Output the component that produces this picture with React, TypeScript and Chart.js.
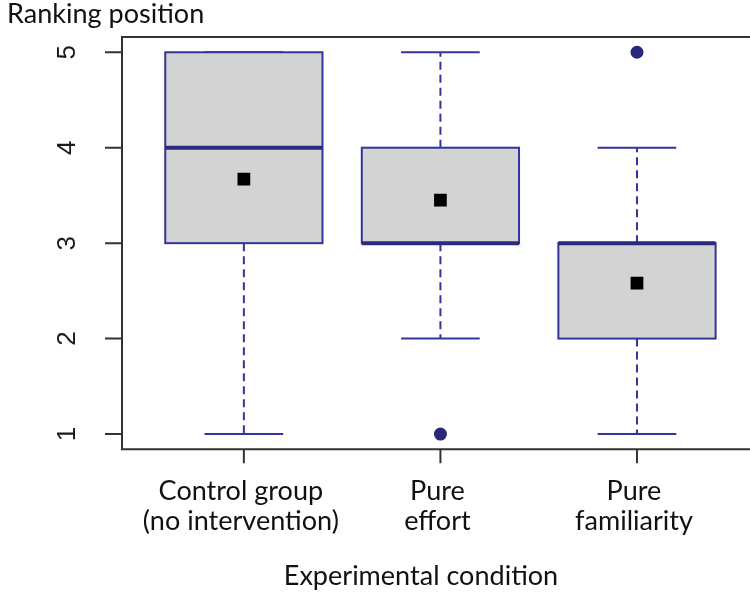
import { useEffect, useRef } from 'react';
import { Chart, registerables } from 'chart.js';

Chart.register(...registerables);

// ---- data ----
const categoryLines: string[][] = [
  ['Control group', '(no intervention)'],
  ['Pure', 'effort'],
  ['Pure', 'familiarity'],
];
const positions = [1, 2, 3];
const whiskerLow = [1, 2, 1];
const q1 = [3, 3, 2];
const median = [4, 3, 3];
const q3 = [5, 4, 3];
const whiskerHigh = [5, 5, 4];
const means = [3.67, 3.45, 2.58];
const outlierPos = [2, 3];
const outlierVal = [1, 5];
const yTicks = [1, 2, 3, 4, 5];
const yTitle = 'Ranking position';
const xTitle = 'Experimental condition';

const BOX_STROKE = '#34349a';
const MEDIAN_COLOR = '#2a2a80';
const BOX_FILL = '#d3d3d3';
const FRAME = '#333333';
const TEXT_FONT = 'Lato, "Open Sans", sans-serif';

const boxPlugin = {
  id: 'boxDraw',
  beforeDatasetsDraw(chart: any) {
    const { ctx } = chart;
    const xs = chart.scales.x;
    const ys = chart.scales.y;
    ctx.save();
    positions.forEach((p, i) => {
      const cx = xs.getPixelForValue(p);
      const half = xs.getPixelForValue(p + 0.4) - cx;
      const capHalf = half / 2;
      const yQ1 = ys.getPixelForValue(q1[i]);
      const yQ3 = ys.getPixelForValue(q3[i]);
      const yMed = ys.getPixelForValue(median[i]);
      const yLo = ys.getPixelForValue(whiskerLow[i]);
      const yHi = ys.getPixelForValue(whiskerHigh[i]);
      ctx.strokeStyle = BOX_STROKE;
      ctx.lineWidth = 2;
      // dashed whiskers
      ctx.setLineDash([8, 5]);
      if (whiskerHigh[i] > q3[i]) {
        ctx.beginPath();
        ctx.moveTo(cx, yQ3);
        ctx.lineTo(cx, yHi);
        ctx.stroke();
      }
      if (whiskerLow[i] < q1[i]) {
        ctx.beginPath();
        ctx.moveTo(cx, yQ1);
        ctx.lineTo(cx, yLo);
        ctx.stroke();
      }
      ctx.setLineDash([]);
      // caps
      ctx.beginPath();
      ctx.moveTo(cx - capHalf, yHi);
      ctx.lineTo(cx + capHalf, yHi);
      ctx.moveTo(cx - capHalf, yLo);
      ctx.lineTo(cx + capHalf, yLo);
      ctx.stroke();
      // box
      ctx.fillStyle = BOX_FILL;
      ctx.fillRect(cx - half, yQ3, half * 2, yQ1 - yQ3);
      ctx.strokeRect(cx - half, yQ3, half * 2, yQ1 - yQ3);
      // median
      ctx.strokeStyle = MEDIAN_COLOR;
      ctx.lineWidth = 4;
      ctx.beginPath();
      ctx.moveTo(cx - half, yMed);
      ctx.lineTo(cx + half, yMed);
      ctx.stroke();
    });
    ctx.restore();
  },
  afterDraw(chart: any) {
    const { ctx, chartArea } = chart;
    const xs = chart.scales.x;
    const ys = chart.scales.y;
    const { left, top, right, bottom } = chartArea;
    ctx.save();
    // frame
    ctx.strokeStyle = FRAME;
    ctx.lineWidth = 2;
    ctx.beginPath();
    ctx.moveTo(right + 2, top);
    ctx.lineTo(left, top);
    ctx.lineTo(left, bottom);
    ctx.lineTo(right + 2, bottom);
    ctx.stroke();
    // ticks
    ctx.beginPath();
    yTicks.forEach((t) => {
      const y = ys.getPixelForValue(t);
      ctx.moveTo(left - 17, y);
      ctx.lineTo(left, y);
    });
    positions.forEach((p) => {
      const x = xs.getPixelForValue(p);
      ctx.moveTo(x, bottom);
      ctx.lineTo(x, bottom + 14);
    });
    ctx.stroke();
    // y tick labels (rotated)
    ctx.fillStyle = '#1a1a1a';
    ctx.font = '26px "Liberation Sans", Arial, sans-serif';
    ctx.textAlign = 'center';
    ctx.textBaseline = 'middle';
    yTicks.forEach((t) => {
      const y = ys.getPixelForValue(t);
      ctx.save();
      ctx.translate(left - 55, y);
      ctx.rotate(-Math.PI / 2);
      ctx.fillText(String(t), 0, 1);
      ctx.restore();
    });
    // text size fitted to reference widths
    const targets: [string, number][] = [
      ['Control group', 164],
      ['(no intervention)', 200],
      ['effort', 67],
      ['familiarity', 110],
      [xTitle, 278],
      [yTitle, 198],
    ];
    ctx.font = `100px ${TEXT_FONT}`;
    let sumT = 0;
    let sumM = 0;
    targets.forEach(([s, w]) => {
      sumT += w;
      sumM += ctx.measureText(s).width;
    });
    const size = (100 * sumT) / sumM;
    ctx.font = `${size}px ${TEXT_FONT}`;
    ctx.fillStyle = '#111';
    ctx.textBaseline = 'alphabetic';
    ctx.textAlign = 'center';
    categoryLines.forEach((lines, i) => {
      const x = xs.getPixelForValue(positions[i]) - 3;
      lines.forEach((ln, j) => {
        ctx.fillText(ln, x, bottom + 51 + j * 30);
      });
    });
    ctx.fillText(xTitle, 421, bottom + 136);
    ctx.textAlign = 'left';
    ctx.fillText(yTitle, 7, 23);
    ctx.restore();
  },
};

export default function App() {
  const ref = useRef<HTMLCanvasElement>(null);
  useEffect(() => {
    if (!ref.current) return;
    const chart = new Chart(ref.current, {
      type: 'scatter',
      data: {
        datasets: [
          {
            label: 'mean',
            data: positions.map((p, i) => ({ x: p, y: means[i] })),
            pointStyle: 'rect',
            pointRadius: 9,
            pointBackgroundColor: '#000',
            pointBorderWidth: 0,
            borderColor: '#000',
          },
          {
            label: 'outliers',
            data: outlierPos.map((p, i) => ({ x: p, y: outlierVal[i] })),
            pointStyle: 'circle',
            pointRadius: 6.5,
            pointBackgroundColor: '#28287a',
            pointBorderWidth: 0,
            borderColor: '#28287a',
          },
        ],
      },
      options: {
        responsive: false,
        animation: false,
        devicePixelRatio: 1,
        layout: { autoPadding: false, padding: { left: 122, top: 37, right: 0, bottom: 143.7 } },
        plugins: {
          legend: { display: false },
          tooltip: { enabled: false },
          title: { display: false },
        },
        scales: {
          x: { type: 'linear', min: 0.38, max: 3.575, display: false },
          y: { type: 'linear', min: 0.84, max: 5.16, display: false },
        },
      },
      plugins: [boxPlugin],
    });
    return () => chart.destroy();
  }, []);
  return (
    <div style={{ position: 'fixed', left: 0, top: 0, width: 750, height: 593, background: '#fff' }}>
      <canvas ref={ref} width={750} height={593} style={{ display: 'block', width: 750, height: 593 }} />
    </div>
  );
}
